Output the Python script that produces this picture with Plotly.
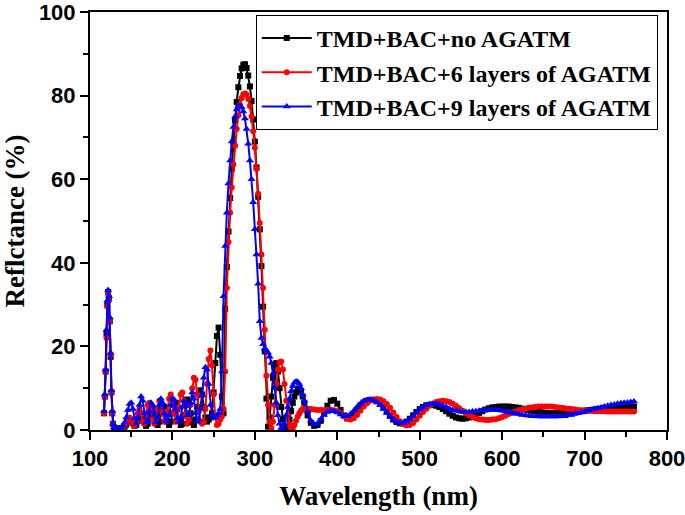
import plotly.graph_objects as go

# wavelength grid (nm): 1 nm through the sharp UV spike, 2 nm to 360 nm, 4 nm to 760 nm
wavelength = list(range(117, 130, 1)) + list(range(130, 361, 2)) + list(range(364, 761, 4))

black_spike = [4, 8, 14, 23, 30, 33, 31.5, 26, 17.5, 9, 4, 1.5, 0.6]
black_mid = [
    0.5, 0.4, 0.3, 0.3, 0.4, 0.5, 0.8, 1.3, 2.0, 2.5,
    2.3, 1.6, 1.0, 1.2, 2.2, 3.5, 4.0, 3.2, 1.8, 1.0,
    1.5, 3.0, 4.5, 5.0, 3.8, 2.0, 1.2, 2.0, 4.0, 5.5,
    5.5, 4.0, 2.0, 1.2, 2.0, 4.0, 6.0, 6.5, 5.0, 2.5,
    1.2, 1.5, 3.5, 6.0, 7.3, 6.5, 4.0, 1.8, 1.2, 2.5,
    5.5, 8.5, 9.5, 8.5, 5.5, 3.0, 2.0, 2.5, 3.0, 4.0,
    9.0, 16.0, 22.5, 24.5, 18.0, 8.0, 4.0, 29.0, 39.0, 47.5,
    55.5, 62.5, 68.8, 74.0, 78.5, 82.0, 84.7, 86.5, 87.4, 87.5,
    86.6, 84.8, 82.2, 78.7, 74.3, 69.0, 62.8, 55.8, 48.0, 39.2,
    29.5, 18.8, 7.5, 0.8, 3.0, 8.0, 12.5, 15.5, 16.0, 14.0,
    10.0, 5.5, 2.5, 0.8, 0.3, 0.8, 2.5, 4.5, 6.5, 8.0,
    9.0, 9.7, 9.8, 9.3, 8.0, 6.5,
]
black_tail = [
    3.5, 1.7, 1.0, 1.2, 2.2, 4.0, 5.8, 7.0, 7.2, 6.3,
    4.8, 3.5, 2.8, 3.0, 3.8, 4.9, 5.9, 6.6, 7.0, 7.2,
    7.2, 6.9, 6.3, 5.4, 4.4, 3.4, 2.5, 1.9, 1.6, 1.6,
    2.0, 2.7, 3.5, 4.3, 5.0, 5.5, 5.9, 6.0, 6.0, 5.8,
    5.5, 5.0, 4.5, 3.9, 3.4, 3.0, 2.8, 2.7, 2.8, 3.0,
    3.3, 3.7, 4.1, 4.5, 4.9, 5.2, 5.4, 5.5, 5.6, 5.6,
    5.6, 5.6, 5.5, 5.4, 5.3, 5.1, 4.9, 4.8, 4.6, 4.5,
    4.3, 4.2, 4.1, 4.0, 4.0, 4.0, 4.0, 4.0, 4.0, 4.1,
    4.2, 4.3, 4.4, 4.5, 4.6, 4.7, 4.8, 4.9, 5.0, 5.1,
    5.2, 5.3, 5.35, 5.4, 5.45, 5.5, 5.5, 5.55, 5.6, 5.6,
]

red_spike = [4, 8, 14, 22, 29.5, 32.5, 31, 26, 18, 9, 4, 1.5, 0.6]
red_mid = [
    0.5, 0.4, 0.3, 0.3, 0.4, 0.6, 1.0, 1.8, 2.5, 3.0,
    2.5, 1.5, 1.0, 2.0, 4.0, 5.0, 4.0, 2.0, 1.5, 3.5,
    6.0, 6.5, 5.0, 2.5, 1.5, 2.5, 5.0, 7.0, 6.5, 4.0,
    2.0, 2.0, 4.5, 7.5, 8.5, 7.0, 4.0, 2.0, 2.5, 5.5,
    8.5, 9.0, 7.0, 3.5, 1.5, 2.5, 6.0, 10.0, 12.5, 12.0,
    8.5, 4.5, 2.0, 1.5, 2.0, 5.0, 11.0, 17.0, 19.0, 15.5,
    8.5, 3.0, 1.2, 1.5, 2.5, 3.2, 5.0, 14.0, 34.0, 45.0,
    52.0, 58.0, 63.5, 68.0, 72.0, 75.3, 77.8, 79.4, 80.3, 80.5,
    80.2, 79.2, 77.5, 75.0, 71.5, 67.5, 62.5, 56.5, 49.5, 42.0,
    34.0, 24.0, 13.0, 6.0, 2.0, 0.5, 2.0, 6.0, 11.0, 14.5,
    16.2, 16.4, 14.5, 11.0, 7.0, 3.5, 1.2, 0.3, 0.5, 1.2,
    2.2, 3.2, 4.0, 4.6, 5.0, 5.1,
]
red_tail = [
    5.1, 5.0, 4.9, 4.8, 4.8, 4.8, 4.8, 4.8, 4.7, 4.5,
    4.0, 3.3, 2.7, 2.5, 2.8, 3.6, 4.6, 5.6, 6.4, 7.0,
    7.3, 7.4, 7.3, 6.9, 6.2, 5.3, 4.2, 3.1, 2.1, 1.4,
    1.1, 1.2, 1.7, 2.5, 3.4, 4.3, 5.1, 5.8, 6.3, 6.7,
    6.9, 7.0, 6.9, 6.7, 6.3, 5.8, 5.2, 4.6, 4.0, 3.5,
    3.1, 2.8, 2.6, 2.5, 2.4, 2.4, 2.5, 2.6, 2.8, 3.1,
    3.4, 3.8, 4.1, 4.4, 4.7, 4.9, 5.1, 5.3, 5.4, 5.5,
    5.6, 5.6, 5.6, 5.6, 5.6, 5.5, 5.4, 5.3, 5.2, 5.1,
    5.0, 4.9, 4.8, 4.7, 4.7, 4.6, 4.6, 4.5, 4.5, 4.5,
    4.5, 4.4, 4.4, 4.4, 4.4, 4.4, 4.4, 4.4, 4.4, 4.4,
]

blue_spike = [4.5, 8.5, 14.5, 24, 31, 33.5, 32, 27, 18.5, 9.5, 4.5, 1.5, 0.6]
blue_mid = [
    0.4, 0.3, 0.3, 0.4, 0.6, 1.0, 1.8, 3.0, 4.8, 6.2,
    6.5, 5.0, 2.8, 1.5, 3.0, 6.0, 8.0, 7.0, 4.0, 1.8,
    2.0, 4.5, 6.5, 6.0, 3.5, 1.8, 3.0, 6.0, 7.5, 6.5,
    4.0, 2.2, 2.0, 3.5, 6.0, 7.5, 7.3, 5.0, 2.8, 2.0,
    3.0, 5.5, 7.0, 6.0, 3.5, 3.5, 6.5, 9.0, 7.5, 4.0,
    2.0, 2.5, 5.0, 8.5, 12.5, 15.0, 14.5, 11.0, 6.0, 3.5,
    3.0, 3.0, 3.5, 4.0, 5.0, 14.0, 32.0, 44.0, 52.0, 59.0,
    64.5, 69.0, 72.5, 75.0, 76.7, 77.4, 77.5, 77.2, 76.2, 74.5,
    72.0, 68.5, 64.5, 60.0, 54.5, 48.0, 42.0, 35.0, 26.0, 22.0,
    20.5, 19.5, 19.0, 18.5, 17.5, 16.0, 13.5, 10.0, 6.5, 3.5,
    1.5, 0.5, 0.5, 1.5, 3.5, 5.5, 7.5, 9.3, 10.5, 11.3,
    11.6, 11.5, 11.0, 10.0, 8.5, 7.0,
]
blue_tail = [
    4.5, 2.2, 1.3, 1.5, 2.5, 3.6, 4.3, 4.6, 4.5, 4.2,
    3.7, 3.3, 3.3, 3.8, 4.6, 5.5, 6.3, 6.9, 7.2, 7.3,
    7.1, 6.6, 5.9, 5.0, 4.1, 3.2, 2.5, 2.0, 1.7, 1.7,
    2.0, 2.6, 3.4, 4.2, 4.9, 5.5, 5.9, 6.2, 6.3, 6.3,
    6.1, 5.8, 5.5, 5.1, 4.8, 4.6, 4.4, 4.3, 4.3, 4.3,
    4.4, 4.5, 4.6, 4.7, 4.8, 4.8, 4.8, 4.8, 4.7, 4.6,
    4.4, 4.3, 4.1, 3.9, 3.8, 3.6, 3.5, 3.4, 3.3, 3.3,
    3.2, 3.2, 3.2, 3.2, 3.2, 3.2, 3.2, 3.3, 3.3, 3.5,
    3.6, 3.8, 4.0, 4.2, 4.4, 4.6, 4.8, 5.0, 5.2, 5.4,
    5.6, 5.8, 6.0, 6.1, 6.3, 6.4, 6.5, 6.6, 6.7, 6.8,
]

series_names = [
    "TMD+BAC+no AGATM",
    "TMD+BAC+6 layers of AGATM",
    "TMD+BAC+9 layers of AGATM",
]
series_values = [
    black_spike + black_mid + black_tail,
    red_spike + red_mid + red_tail,
    blue_spike + blue_mid + blue_tail,
]
for v in series_values:
    assert len(v) == len(wavelength), (len(v), len(wavelength))

colors = ["#000000", "#ff0000", "#0000ff"]
symbols = ["square", "circle", "triangle-up"]
sizes = [6, 6, 7]

fig = go.Figure()
for name, vals, c, s, sz in zip(series_names, series_values, colors, symbols, sizes):
    fig.add_trace(go.Scatter(
        x=wavelength, y=vals, name=name, mode="lines+markers",
        line=dict(color=c, width=2),
        marker=dict(color=c, symbol=s, size=sz, line=dict(width=0)),
    ))

axis_common = dict(
    showline=True, linecolor="black", linewidth=2, mirror=True,
    ticks="outside", ticklen=8, tickwidth=2, tickcolor="black",
    showgrid=False, zeroline=False, automargin=False,
    ticklabeloverflow="allow",
    tickfont=dict(family="Liberation Sans, Arial", size=22, color="black", weight="bold"),
)

fig.update_xaxes(
    range=[100, 800], dtick=100, tick0=100,
    minor=dict(ticks="outside", ticklen=5, tickwidth=2, dtick=50, tickcolor="black"),
    title=dict(text="Wavelength (nm)", standoff=16,
               font=dict(family="Liberation Serif, Times New Roman", size=27, color="black", weight="bold")),
    **axis_common,
)
fig.update_yaxes(
    range=[0, 100], dtick=20, tick0=0,
    minor=dict(ticks="outside", ticklen=5, tickwidth=2, dtick=10, tickcolor="black"),
    title=dict(text="Reflctance (%)", standoff=14,
               font=dict(family="Liberation Serif, Times New Roman", size=27, color="black", weight="bold")),
    **axis_common,
)

fig.update_layout(
    width=685, height=515,
    margin=dict(l=90, r=18, t=12, b=85),
    paper_bgcolor="white", plot_bgcolor="white",
    legend=dict(
        x=0.984, y=0.993, xanchor="right", yanchor="top",
        bordercolor="black", borderwidth=1, bgcolor="white",
        font=dict(family="Liberation Serif, Times New Roman", size=24, color="black", weight="bold"),
        itemwidth=50, tracegroupgap=0,
    ),
    showlegend=True,
)

fig.write_html("out.html", config={"displayModeBar": False},
               post_script="document.body.style.margin='0px';")
